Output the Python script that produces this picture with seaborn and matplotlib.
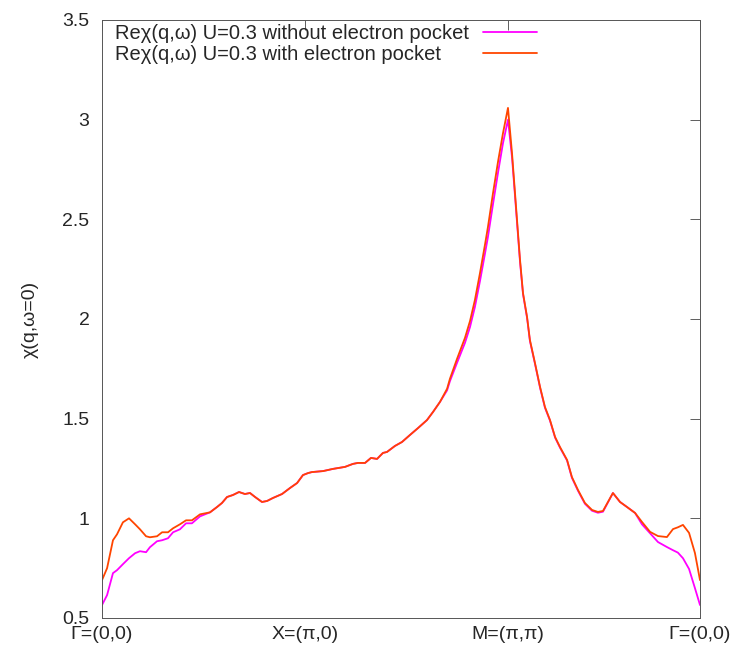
import numpy as np
import pandas as pd
import matplotlib
matplotlib.use("Agg")
import matplotlib.pyplot as plt
import seaborn as sns

# k-path coordinate (Gamma-X = 1) and susceptibility
k_path = [0.000, 0.025, 0.054, 0.074, 0.103, 0.133, 0.163, 0.187, 0.217, 0.236,
          0.271, 0.296, 0.325, 0.350, 0.384, 0.414, 0.443, 0.483, 0.532,
          0.567, 0.591, 0.616, 0.645, 0.675, 0.704, 0.729, 0.754, 0.788, 0.813,
          0.842, 0.887, 0.926, 0.961, 0.990, 1.015, 1.034, 1.089, 1.138, 1.197,
          1.236, 1.261, 1.296, 1.325, 1.355, 1.384, 1.404, 1.443, 1.478, 1.517,
          1.557, 1.601, 1.631, 1.665, 1.700, 1.714, 1.749, 1.788, 1.813, 1.837,
          1.862, 1.887, 1.901, 1.926, 1.951, 1.975, 2.000, 2.020, 2.034, 2.059,
          2.074, 2.094, 2.108, 2.133, 2.158, 2.182, 2.207, 2.232, 2.256, 2.291,
          2.315, 2.345, 2.379, 2.414, 2.443, 2.468, 2.517, 2.552, 2.586, 2.626,
          2.660, 2.700, 2.739, 2.783, 2.813, 2.837, 2.862, 2.892, 2.921, 2.946]

chi_with = [0.69, 0.75, 0.89, 0.92, 0.98, 1.00, 0.97, 0.945, 0.91, 0.905,
            0.91, 0.93, 0.93, 0.95, 0.97, 0.99, 0.99, 1.02, 1.03,
            1.057, 1.077, 1.107, 1.117, 1.132, 1.122, 1.127, 1.107, 1.082, 1.087,
            1.102, 1.122, 1.152, 1.177, 1.217, 1.227, 1.232, 1.237, 1.248, 1.258,
            1.273, 1.278, 1.278, 1.303, 1.298, 1.328, 1.333, 1.363, 1.383, 1.418,
            1.453, 1.493, 1.534, 1.584, 1.650, 1.700, 1.800, 1.905, 1.990, 2.095,
            2.230, 2.375, 2.460, 2.630, 2.790, 2.930, 3.059, 2.830, 2.640, 2.300,
            2.130, 2.010, 1.895, 1.779, 1.659, 1.559, 1.493, 1.408, 1.358, 1.293,
            1.207, 1.142, 1.077, 1.042, 1.032, 1.037, 1.127, 1.082, 1.057, 1.027,
            0.982, 0.932, 0.911, 0.906, 0.946, 0.955, 0.967, 0.927, 0.826, 0.690]

chi_without = [0.565, 0.615, 0.725, 0.74, 0.77, 0.80, 0.825, 0.835, 0.83, 0.855,
               0.885, 0.89, 0.90, 0.93, 0.945, 0.975, 0.975, 1.01, 1.03,
               1.057, 1.077, 1.107, 1.117, 1.132, 1.122, 1.127, 1.107, 1.082, 1.087,
               1.102, 1.122, 1.152, 1.177, 1.217, 1.227, 1.232, 1.237, 1.248, 1.258,
               1.273, 1.278, 1.278, 1.303, 1.298, 1.328, 1.333, 1.363, 1.383, 1.418,
               1.453, 1.493, 1.534, 1.584, 1.642, 1.688, 1.780, 1.880, 1.960, 2.060,
               2.190, 2.330, 2.410, 2.575, 2.735, 2.880, 3.000, 2.810, 2.625, 2.290,
               2.125, 2.005, 1.890, 1.775, 1.655, 1.555, 1.490, 1.405, 1.355, 1.290,
               1.203, 1.138, 1.073, 1.038, 1.028, 1.033, 1.127, 1.082, 1.057, 1.027,
               0.970, 0.925, 0.881, 0.856, 0.840, 0.828, 0.800, 0.746, 0.650, 0.565]

tick_pos = [0.0, 1.0, 2.0, 2.946]
tick_labels = ["Γ=(0,0)", "X=(π,0)", "M=(π,π)", "Γ=(0,0)"]

lab_without = "Reχ(q,ω) U=0.3 without electron pocket"
lab_with = "Reχ(q,ω) U=0.3 with electron pocket"

df = pd.concat([
    pd.DataFrame({"k": k_path, "chi": chi_without, "series": lab_without}),
    pd.DataFrame({"k": k_path, "chi": chi_with, "series": lab_with}),
])

sns.set_style("white")
plt.rcParams["font.family"] = ["Liberation Sans", "DejaVu Sans"]
fs = 14
leg_fs = 14.5

fig = plt.figure(figsize=(7.36, 6.55), dpi=100)
ax = fig.add_axes([0.1386, 0.0565, 0.8125, 0.9130])

sns.lineplot(data=df, x="k", y="chi", hue="series", sort=False, estimator=None,
             palette={lab_without: "#ff00ff", lab_with: "#ff4500"},
             linewidth=1.3, ax=ax)

ax.set_xlim(0, 2.946)
ax.set_ylim(0.5, 3.5)
ax.set_xticks(tick_pos)
ax.set_xticklabels(tick_labels, fontsize=fs)
ax.set_yticks(np.arange(0.5, 3.51, 0.5))
ax.set_yticklabels(["0.5", "1", "1.5", "2", "2.5", "3", "3.5"], fontsize=fs)
ax.tick_params(direction="in", length=7, width=0.6, top=True, right=True,
               color="#444444", pad=9)
ax.tick_params(axis="x", pad=6)
ax.set_xlabel("")
ax.set_ylabel("χ(q,ω=0)", fontsize=fs, labelpad=17)
for s in ax.spines.values():
    s.set_linewidth(0.7)
    s.set_color("#555555")

leg = ax.legend(loc="upper left", bbox_to_anchor=(0.011, 1.003), frameon=False,
                markerfirst=False, fontsize=leg_fs,
                handlelength=2.7, handletextpad=0.7, labelspacing=0.1,
                borderaxespad=0.15, borderpad=0.15)

# gnuplot-style key: text left-justified, samples lined up on the right
fig.canvas.draw()
r = fig.canvas.get_renderer()
widths = [t.get_window_extent(r).width for t in leg.get_texts()]
rows = leg._legend_handle_box.get_children()[0].get_children()
for row, w in zip(rows, widths):
    row.sep = 0.7 * leg_fs + (max(widths) - w) * 72 / fig.dpi

fig.savefig("out.png", dpi=100)
